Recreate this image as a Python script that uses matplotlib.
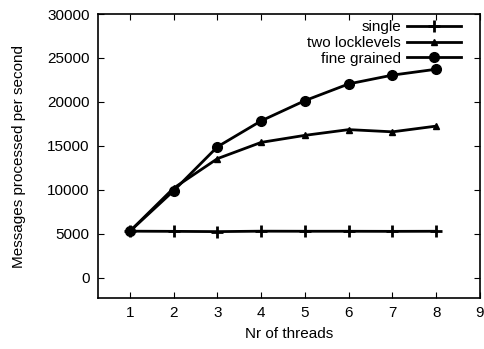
import matplotlib
matplotlib.use("Agg")
import matplotlib.pyplot as plt

plt.rcParams['font.family'] = ['Liberation Sans', 'DejaVu Sans']

threads = [1, 2, 3, 4, 5, 6, 7, 8]
single = [5300, 5280, 5250, 5300, 5290, 5290, 5280, 5290]
two_locklevels = [5300, 10200, 13550, 15400, 16200, 16850, 16600, 17250]
fine_grained = [5300, 9900, 14900, 17850, 20150, 22050, 23050, 23720]

fig = plt.figure(figsize=(4.84, 3.49), dpi=100)
ax = fig.add_axes([98 / 484, 1 - 298 / 349, (480 - 98) / 484, (298 - 14) / 349])

ax.plot(threads, single, color='black', lw=2, marker='+', ms=8, mew=2, label='single')
ax.plot(threads, two_locklevels, color='black', lw=2, marker='^', ms=5, label='two locklevels')
ax.plot(threads, fine_grained, color='black', lw=2, marker='o', ms=7, label='fine grained')

ax.set_xlim(0.27, 9)
ax.set_ylim(-2300, 30000)
ax.set_xticks(range(1, 10))
ax.set_yticks(range(0, 30001, 5000))
ax.tick_params(direction='in', top=True, right=True, labelsize=11, length=4, width=0.8)
ax.tick_params(axis='x', pad=6)
ax.tick_params(axis='y', pad=6)
for s in ax.spines.values():
    s.set_linewidth(1.2)

ax.set_xlabel('Nr of threads', fontsize=11, labelpad=5)
ax.set_ylabel('Messages processed per second', fontsize=11, labelpad=15)

leg = ax.legend(loc='upper right', frameon=False, markerfirst=False, fontsize=11,
                handlelength=3.5, handletextpad=0.4, labelspacing=0.12,
                borderaxespad=0.0, bbox_to_anchor=(0.965, 1.0))

fig.savefig('out.png', dpi=100)
